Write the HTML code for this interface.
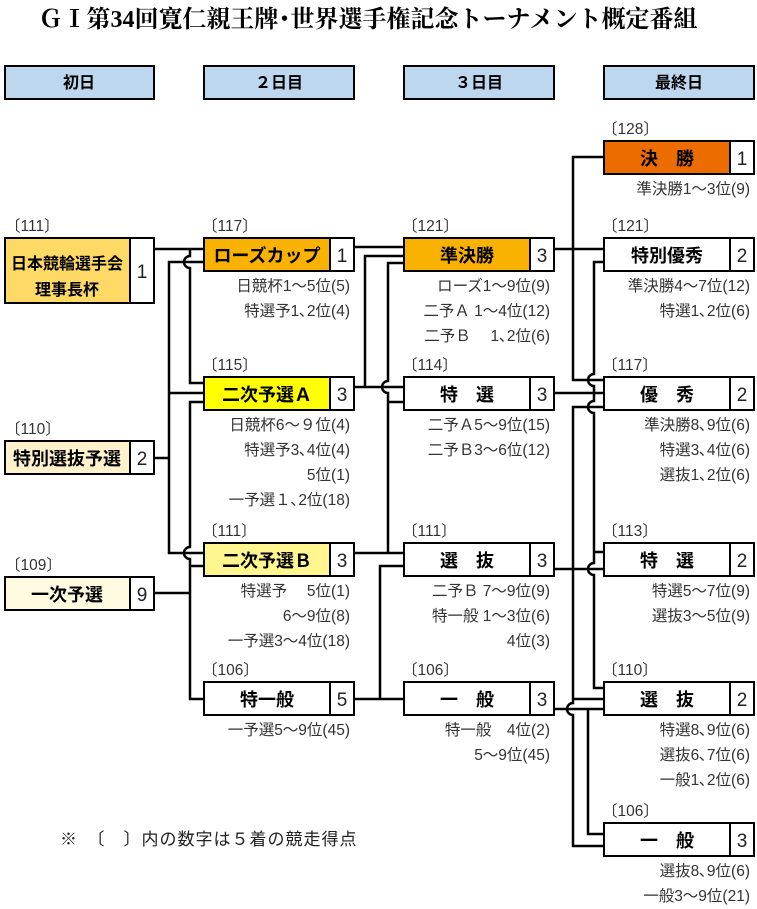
<!DOCTYPE html>
<html><head><meta charset="utf-8"><style>
body{margin:0;background:#fff}
svg{display:block}
text{font-family:"Liberation Sans","Noto Sans CJK JP",sans-serif}
.t{font-size:15.5px;fill:#333}
.s{font-size:15.5px;fill:#333;text-anchor:end}
.b{font-size:18px;font-weight:bold;fill:#000;text-anchor:middle}
.n{font-size:19px;fill:#222;text-anchor:middle}
.h{font-size:16px;font-weight:bold;fill:#000;text-anchor:middle}
</style></head><body>
<svg width="757" height="909" viewBox="0 0 757 909" xmlns="http://www.w3.org/2000/svg">
<text x="368" y="27" text-anchor="middle" style="font-family:'Liberation Serif','Noto Serif CJK SC',serif;font-size:24px;font-weight:bold">ＧⅠ第34回寛仁親王牌･世界選手権記念トーナメント概定番組</text>
<g stroke="#000" stroke-width="2" fill="#bdd7ee">
<rect x="5" y="66" width="149" height="33"/><rect x="204" y="66" width="150" height="33"/><rect x="404" y="66" width="150" height="33"/><rect x="604" y="66" width="150" height="33"/>
</g>
<text class="h" x="79" y="88">初日</text><text class="h" x="279" y="88">２日目</text><text class="h" x="479" y="88">３日目</text><text class="h" x="679" y="88">最終日</text>

<g stroke="#000" stroke-width="2.5" fill="none">
<path d="M154 249H204"/>
<path d="M190 249V256A6 6 0 0 0 190 268V383H204"/>
<path d="M154 458H169"/>
<path d="M204 262H169V553H204"/>
<path d="M169 393H204"/>
<path d="M204 402H190V547A6 6 0 0 0 190 559V699H204"/>
<path d="M190 566H204"/>
<path d="M154 593H190"/>
<path d="M354 247H404"/>
<path d="M354 387H404"/>
<path d="M365 387V256H404"/>
<path d="M404 263H388V381A6 6 0 0 0 388 393V553"/>
<path d="M388 402H404"/>
<path d="M354 553H404"/>
<path d="M404 566H380V699"/>
<path d="M354 699H404"/>
<path d="M604 157H573V380H604"/>
<path d="M554 249H604"/>
<path d="M604 262H594V374A6 6 0 0 0 594 386V401A6 6 0 0 0 594 413V563A6 6 0 0 0 594 575V688H604"/>
<path d="M554 393H604"/>
<path d="M604 407H573V703A6 6 0 0 0 573 715V846H604"/>
<path d="M594 552H604"/>
<path d="M554 569H604"/>
<path d="M573 699H604"/>
<path d="M554 709H604"/>
<path d="M588 709V834H604"/>
</g>

<g stroke="#000" stroke-width="2">
<rect x="5" y="238" width="125" height="65" fill="#ffd966"/><rect x="130" y="238" width="24" height="65" fill="#fff"/>
<rect x="5" y="441" width="125" height="33" fill="#fff2cc"/><rect x="130" y="441" width="24" height="33" fill="#fff"/>
<rect x="5" y="577" width="125" height="33" fill="#fffbe0"/><rect x="130" y="577" width="24" height="33" fill="#fff"/>
<rect x="204" y="238" width="126" height="33" fill="#f9b200"/><rect x="330" y="238" width="24" height="33" fill="#fff"/>
<rect x="204" y="377" width="126" height="33" fill="#ffff00"/><rect x="330" y="377" width="24" height="33" fill="#fff"/>
<rect x="204" y="543" width="126" height="33" fill="#fff68f"/><rect x="330" y="543" width="24" height="33" fill="#fff"/>
<rect x="204" y="682" width="126" height="33" fill="#fff"/><rect x="330" y="682" width="24" height="33" fill="#fff"/>
<rect x="404" y="238" width="126" height="33" fill="#f9b200"/><rect x="530" y="238" width="24" height="33" fill="#fff"/>
<rect x="404" y="377" width="126" height="33" fill="#fff"/><rect x="530" y="377" width="24" height="33" fill="#fff"/>
<rect x="404" y="543" width="126" height="33" fill="#fff"/><rect x="530" y="543" width="24" height="33" fill="#fff"/>
<rect x="404" y="682" width="126" height="33" fill="#fff"/><rect x="530" y="682" width="24" height="33" fill="#fff"/>
<rect x="604" y="141" width="126" height="33" fill="#ed6c00"/><rect x="730" y="141" width="24" height="33" fill="#fff"/>
<rect x="604" y="238" width="126" height="33" fill="#fff"/><rect x="730" y="238" width="24" height="33" fill="#fff"/>
<rect x="604" y="377" width="126" height="33" fill="#fff"/><rect x="730" y="377" width="24" height="33" fill="#fff"/>
<rect x="604" y="543" width="126" height="33" fill="#fff"/><rect x="730" y="543" width="24" height="33" fill="#fff"/>
<rect x="604" y="682" width="126" height="33" fill="#fff"/><rect x="730" y="682" width="24" height="33" fill="#fff"/>
<rect x="604" y="823" width="126" height="33" fill="#fff"/><rect x="730" y="823" width="24" height="33" fill="#fff"/>
</g>

<g class="t">
<text x="5" y="231">〔111〕</text><text x="5" y="434">〔110〕</text><text x="5" y="570">〔109〕</text>
<text x="202" y="231">〔117〕</text><text x="202" y="370">〔115〕</text><text x="202" y="536">〔111〕</text><text x="202" y="675">〔106〕</text>
<text x="402" y="231">〔121〕</text><text x="402" y="370">〔114〕</text><text x="402" y="536">〔111〕</text><text x="402" y="675">〔106〕</text>
<text x="602" y="134">〔128〕</text><text x="602" y="231">〔121〕</text><text x="602" y="370">〔117〕</text><text x="602" y="536">〔113〕</text><text x="602" y="675">〔110〕</text><text x="602" y="816">〔106〕</text>
</g>

<g class="b">
<text x="67" y="269" style="font-size:16px">日本競輪選手会</text><text x="67" y="295" style="font-size:16px">理事長杯</text>
<text x="67" y="465">特別選抜予選</text><text x="67" y="601">一次予選</text>
<text x="267" y="262">ローズカップ</text><text x="267" y="401">二次予選Ａ</text><text x="267" y="567">二次予選Ｂ</text><text x="267" y="706">特一般</text>
<text x="467" y="262">準決勝</text><text x="467" y="401">特　選</text><text x="467" y="567">選　抜</text><text x="467" y="706">一　般</text>
<text x="667" y="165">決　勝</text><text x="667" y="262">特別優秀</text><text x="667" y="401">優　秀</text><text x="667" y="567">特　選</text><text x="667" y="706">選　抜</text><text x="667" y="847">一　般</text>
</g>
<g class="n">
<text x="142" y="278">1</text><text x="142" y="465">2</text><text x="142" y="601">9</text>
<text x="342" y="262">1</text><text x="342" y="401">3</text><text x="342" y="567">3</text><text x="342" y="706">5</text>
<text x="542" y="262">3</text><text x="542" y="401">3</text><text x="542" y="567">3</text><text x="542" y="706">3</text>
<text x="742" y="165">1</text><text x="742" y="262">2</text><text x="742" y="401">2</text><text x="742" y="567">2</text><text x="742" y="706">2</text><text x="742" y="847">3</text>
</g>

<g class="s">
<text x="350" y="291">日競杯1～5位(5)</text><text x="350" y="316">特選予1､2位(4)</text>
<text x="350" y="430">日競杯6～９位(4)</text><text x="350" y="455">特選予3､4位(4)</text><text x="350" y="480">5位(1)</text><text x="350" y="505">一予選１､2位(18)</text>
<text x="350" y="596">特選予　 5位(1)</text><text x="350" y="621">6～9位(8)</text><text x="350" y="646">一予選3～4位(18)</text>
<text x="350" y="735">一予選5～9位(45)</text>
<text x="550" y="291">ローズ1～9位(9)</text><text x="550" y="316">二予Ａ 1～4位(12)</text><text x="550" y="341">二予Ｂ　 1､2位(6)</text>
<text x="550" y="430">二予Ａ5～9位(15)</text><text x="550" y="455">二予Ｂ3～6位(12)</text>
<text x="550" y="596">二予Ｂ 7～9位(9)</text><text x="550" y="621">特一般 1～3位(6)</text><text x="550" y="646">4位(3)</text>
<text x="550" y="735">特一般　4位(2)</text><text x="550" y="760">5～9位(45)</text>
<text x="750" y="194">準決勝1～3位(9)</text>
<text x="750" y="291">準決勝4～7位(12)</text><text x="750" y="316">特選1､2位(6)</text>
<text x="750" y="430">準決勝8､9位(6)</text><text x="750" y="455">特選3､4位(6)</text><text x="750" y="480">選抜1､2位(6)</text>
<text x="750" y="596">特選5～7位(9)</text><text x="750" y="621">選抜3～5位(9)</text>
<text x="750" y="735">特選8､9位(6)</text><text x="750" y="760">選抜6､7位(6)</text><text x="750" y="785">一般1､2位(6)</text>
<text x="750" y="876">選抜8､9位(6)</text><text x="750" y="901">一般3～9位(21)</text>
</g>
<text x="60" y="845" style="font-size:17px;fill:#222;letter-spacing:1px">※　〔　〕内の数字は５着の競走得点</text>
</svg>
</body></html>
